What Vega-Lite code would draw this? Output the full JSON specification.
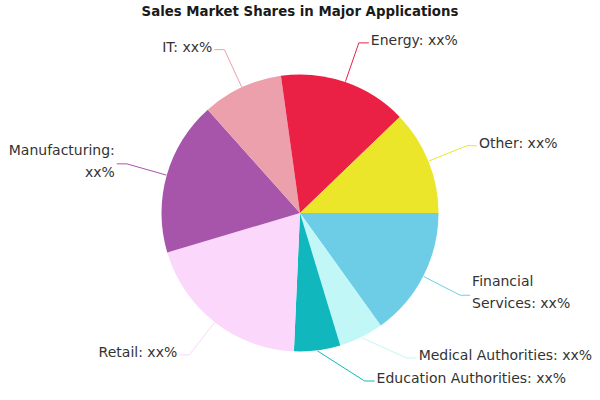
{
  "$schema": "https://vega.github.io/schema/vega-lite/v6.json",
  "width": 600,
  "height": 374,
  "padding": {"top": 26, "left": 0, "right": 0, "bottom": 0},
  "autosize": {"type": "none"},
  "background": "white",
  "title": {
    "text": "Sales Market Shares in Major Applications",
    "font": "DejaVu Sans Condensed, sans-serif",
    "fontSize": 14.8,
    "fontWeight": "bold",
    "color": "#1a1a1a",
    "anchor": "middle",
    "offset": 7
  },
  "config": {"view": {"stroke": null}},
  "data": {
    "values": [
      {"idx": 1, "category": "Financial Services", "value": 15.1, "label": "Financial\nServices: xx%"},
      {"idx": 2, "category": "Medical Authorities", "value": 5.2, "label": "Medical Authorities: xx%"},
      {"idx": 3, "category": "Education Authorities", "value": 5.4, "label": "Education Authorities: xx%"},
      {"idx": 4, "category": "Retail", "value": 19.7, "label": "Retail: xx%"},
      {"idx": 5, "category": "Manufacturing", "value": 18.0, "label": "Manufacturing:\nxx%"},
      {"idx": 6, "category": "IT", "value": 9.4, "label": "IT: xx%"},
      {"idx": 7, "category": "Energy", "value": 15.0, "label": "Energy: xx%"},
      {"idx": 8, "category": "Other", "value": 12.2, "label": "Other: xx%"}
    ]
  },
  "transform": [
    {"joinaggregate": [{"op": "sum", "field": "value", "as": "total"}]},
    {"window": [{"op": "sum", "field": "value", "as": "cum"}], "sort": [{"field": "idx"}], "frame": [null, 0]},
    {"calculate": "2*PI*(datum.cum - datum.value/2)/datum.total", "as": "mid"},
    {"calculate": "cos(datum.mid) >= 0 ? 'right' : 'left'", "as": "side"},
    {"calculate": "min(168, 180*sin(datum.mid))", "as": "ny"},
    {"window": [{"op": "row_number", "as": "k"}], "groupby": ["side"], "sort": [{"field": "ny"}]},
    {"calculate": "datum.ny - 23*datum.k", "as": "w"},
    {"window": [{"op": "min", "field": "w", "as": "wmin"}], "groupby": ["side"], "sort": [{"field": "ny"}], "frame": [0, null]},
    {"calculate": "datum.wmin + 23*datum.k", "as": "ly"},
    {"calculate": "(datum.side == 'right' ? 1 : -1) * sqrt(max(0, 180*180 - datum.ly*datum.ly))", "as": "ex"},
    {"calculate": "139*cos(datum.mid)", "as": "sx"},
    {"calculate": "139*sin(datum.mid)", "as": "sy"},
    {"calculate": "datum.ex + (datum.side == 'right' ? 10 : -10)", "as": "tx"},
    {"calculate": "datum.ly - 11*(length(split(datum.label, '\\n')) - 1)", "as": "ty"}
  ],
  "layer": [
    {
      "mark": {"type": "arc", "radius": 138.5},
      "encoding": {
        "theta": {"field": "value", "type": "quantitative", "stack": true, "scale": {"range": [1.5707963, 7.8539816]}},
        "order": {"field": "idx", "type": "quantitative"},
        "color": {
          "field": "category", "type": "nominal", "legend": null,
          "scale": {
            "domain": ["Financial Services", "Medical Authorities", "Education Authorities", "Retail", "Manufacturing", "IT", "Energy", "Other"],
            "range": ["#6DCDE6", "#C2F7F8", "#10B8BE", "#FBD7FC", "#A655AA", "#ECA0AC", "#EB2045", "#EBE62A"]
          }
        }
      }
    },
    {
      "mark": {"type": "rule", "strokeWidth": 1},
      "encoding": {
        "x": {"field": "sx", "type": "quantitative", "axis": null, "scale": {"domain": [-300, 300], "nice": false, "zero": false}},
        "y": {"field": "sy", "type": "quantitative", "axis": null, "scale": {"domain": [-187, 187], "nice": false, "zero": false, "reverse": true}},
        "x2": {"field": "ex"},
        "y2": {"field": "ly"},
        "color": {"field": "category", "type": "nominal", "legend": null}
      }
    },
    {
      "mark": {"type": "rule", "strokeWidth": 1},
      "encoding": {
        "x": {"field": "ex", "type": "quantitative"},
        "y": {"field": "ly", "type": "quantitative"},
        "x2": {"field": "tx"},
        "y2": {"field": "ly"},
        "color": {"field": "category", "type": "nominal", "legend": null}
      }
    },
    {
      "transform": [{"filter": "datum.side == 'right'"}],
      "mark": {"type": "text", "align": "left", "baseline": "middle", "dx": 2, "dy": -2, "font": "DejaVu Sans", "fontSize": 14, "color": "#333333", "lineBreak": "\n", "lineHeight": 22},
      "encoding": {
        "x": {"field": "tx", "type": "quantitative"},
        "y": {"field": "ty", "type": "quantitative"},
        "text": {"field": "label"}
      }
    },
    {
      "transform": [{"filter": "datum.side == 'left'"}],
      "mark": {"type": "text", "align": "right", "baseline": "middle", "dx": -2, "dy": -2, "font": "DejaVu Sans", "fontSize": 14, "color": "#333333", "lineBreak": "\n", "lineHeight": 22},
      "encoding": {
        "x": {"field": "tx", "type": "quantitative"},
        "y": {"field": "ty", "type": "quantitative"},
        "text": {"field": "label"}
      }
    }
  ]
}
